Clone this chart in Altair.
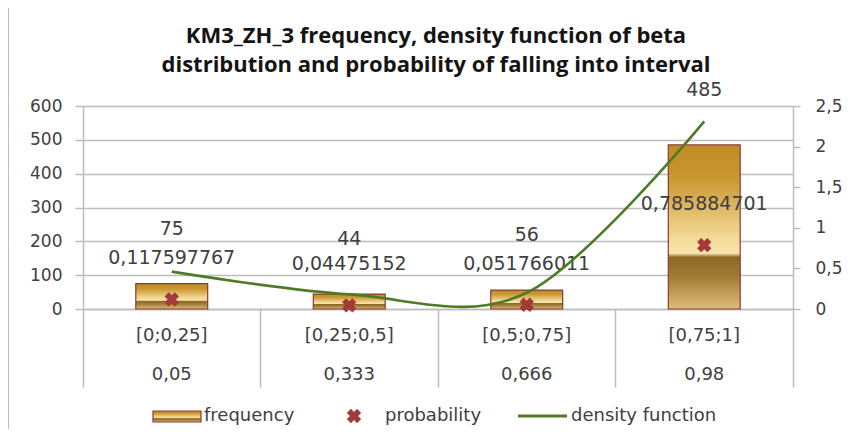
import altair as alt
import pandas as pd

# ---- data ----
categories = ["[0;0,25]", "[0,25;0,5]", "[0,5;0,75]", "[0,75;1]"]
centres = ["0,05", "0,333", "0,666", "0,98"]
frequency = [75, 44, 56, 485]
probability = [0.117597767, 0.04475152, 0.051766011, 0.785884701]
prob_labels = ["0,117597767", "0,04475152", "0,051766011", "0,785884701"]
density = [0.46, 0.18, 0.20, 2.31]
left_ticks = [0, 100, 200, 300, 400, 500, 600]
right_ticks = [0, 0.5, 1, 1.5, 2, 2.5]
title_lines = ["KM3_ZH_3 frequency, density function of beta",
               "distribution and probability of falling into interval"]

df = pd.DataFrame({
    "cat": categories,
    "centre": centres,
    "freq": frequency,
    "prob": probability,
    "prob_label": prob_labels,
    "density": density,
})

LABEL_FONT = "DejaVu Sans"
TXT = "#404040"
GRID = "#BDBDBD"

gold = alt.LinearGradient(
    gradient="linear", x1=0, y1=0, x2=0, y2=1,
    stops=[
        alt.GradientStop(offset=0.0, color="#C08C24"),
        alt.GradientStop(offset=0.2, color="#C89630"),
        alt.GradientStop(offset=0.55, color="#F2D792"),
        alt.GradientStop(offset=0.66, color="#F7E4AE"),
        alt.GradientStop(offset=0.685, color="#8C6825"),
        alt.GradientStop(offset=0.8, color="#A17B36"),
        alt.GradientStop(offset=1.0, color="#DDBC79"),
    ],
)

x_enc = alt.X(
    "cat:N", sort=categories, title=None,
    scale=alt.Scale(paddingInner=0, paddingOuter=0),
    axis=alt.Axis(labels=False, bandPosition=1, tickExtra=True, tickSize=78,
                  tickColor=GRID, tickWidth=1.5, domainColor=GRID, domainWidth=1.5,
                  grid=False),
)
x_plain = alt.X("cat:N", sort=categories)


def left_y(field):
    return alt.Y(
        field, title=None,
        scale=alt.Scale(domain=[0, 600], nice=False),
        axis=alt.Axis(values=left_ticks, grid=True, gridColor=GRID, gridWidth=1.5,
                      tickSize=8, tickColor=GRID, tickWidth=1.5, domainColor=GRID,
                      domainWidth=1.5, labelOverlap=False,
                      labelFont=LABEL_FONT, labelFontSize=17, labelColor=TXT, labelPadding=13),
    )


def right_y(field):
    return alt.Y(
        field, title=None,
        scale=alt.Scale(domain=[0, 2.5], nice=False),
        axis=alt.Axis(orient="right", values=right_ticks, grid=False, labelOverlap=False,
                      tickSize=7, tickColor=GRID, tickWidth=1.5, domainColor=GRID, domainWidth=1.5,
                      labelExpr="replace(format(datum.value, '~g'), '.', ',')",
                      labelFont=LABEL_FONT, labelFontSize=17, labelColor=TXT, labelPadding=15),
    )


base = alt.Chart(df)

bars = base.mark_bar(width=alt.RelativeBandSize(0.405), color=gold,
                     stroke="#8B3A33", strokeWidth=1.2).encode(x=x_enc, y=left_y("freq:Q"))

freq_text = base.mark_text(font=LABEL_FONT, fontSize=19, color=TXT, dy=-55).encode(
    x=x_plain, y=left_y("freq:Q"), text=alt.Text("freq:Q"))

left = alt.layer(bars, freq_text)

prob_text = base.mark_text(font=LABEL_FONT, fontSize=19, color=TXT, dy=-41).encode(
    x=x_plain, y=right_y("prob:Q"), text="prob_label:N")

line = base.mark_line(color="#4E7B26", strokeWidth=2.6, interpolate="cardinal").encode(
    x=x_plain, y=right_y("density:Q"))

points = base.mark_point(shape="cross", angle=45, filled=True, size=210,
                         color="#A33A3A", opacity=1).encode(
    x=x_plain, y=right_y("prob:Q"))

right = alt.layer(prob_text, line, points)

# category labels (two rows under the axis)
row1 = base.mark_text(font=LABEL_FONT, fontSize=18, color=TXT).encode(
    x=x_plain, y=alt.value(230), text="cat:N")
row2 = base.mark_text(font=LABEL_FONT, fontSize=18, color=TXT).encode(
    x=x_plain, y=alt.value(269), text="centre:N")

one = alt.Chart(pd.DataFrame({"k": [0]}))

# title (two centred lines)
t1 = one.mark_text(text=title_lines[0], font="Open Sans", fontSize=22, fontWeight="bold",
                   color="#141414", baseline="middle").encode(x=alt.value(353), y=alt.value(-70))
t2 = one.mark_text(text=title_lines[1], font="Open Sans", fontSize=22, fontWeight="bold",
                   color="#141414", baseline="middle").encode(x=alt.value(353), y=alt.value(-41))

# legend
leg_rect = one.mark_rect(color=gold, stroke="#8B3A33", strokeWidth=1.2).encode(
    x=alt.value(70), x2=alt.value(118), y=alt.value(305), y2=alt.value(316))
leg_t1 = one.mark_text(text="frequency", align="left", baseline="middle",
                       font=LABEL_FONT, fontSize=18, color=TXT).encode(
    x=alt.value(121), y=alt.value(310))
leg_pt = one.mark_point(shape="cross", angle=45, filled=True, size=210,
                        color="#A33A3A", opacity=1).encode(
    x=alt.value(271), y=alt.value(310))
leg_t2 = one.mark_text(text="probability", align="left", baseline="middle",
                       font=LABEL_FONT, fontSize=18, color=TXT).encode(
    x=alt.value(302), y=alt.value(310))
leg_line = one.mark_rule(color="#4E7B26", strokeWidth=3).encode(
    x=alt.value(435), x2=alt.value(484), y=alt.value(310))
leg_t3 = one.mark_text(text="density function", align="left", baseline="middle",
                       font=LABEL_FONT, fontSize=18, color=TXT).encode(
    x=alt.value(488), y=alt.value(310))

border = one.mark_rule(color="#A8A8A8", strokeWidth=1.5).encode(
    x=alt.value(-75), y=alt.value(-98), y2=alt.value(335))

chart = alt.layer(
    left, right, row1, row2, t1, t2,
    leg_rect, leg_t1, leg_pt, leg_t2, leg_line, leg_t3, border
).resolve_scale(y="independent").properties(
    width=710,
    height=203,
    autosize=alt.AutoSizeParams(type="none"),
    padding={"left": 75, "top": 98, "right": 49, "bottom": 120},
).configure_view(strokeWidth=0).configure(background="white")

chart.save("out.html", embed_options={"renderer": "svg", "actions": False})
